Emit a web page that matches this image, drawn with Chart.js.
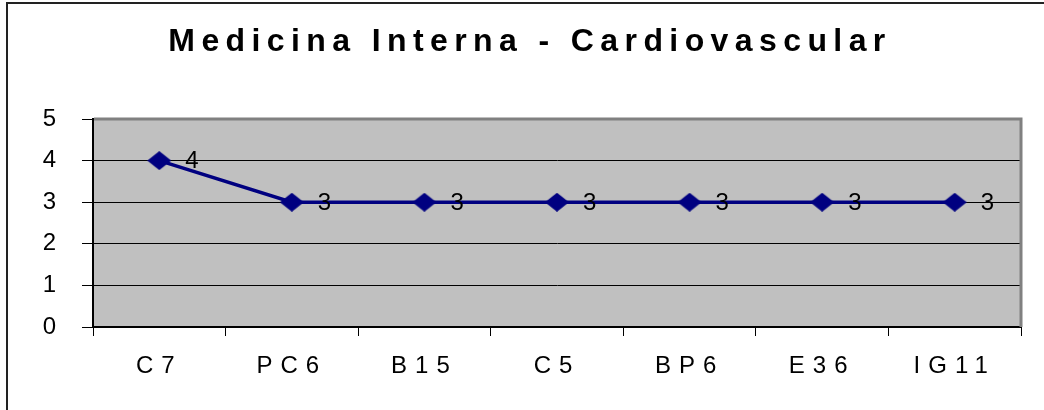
<!DOCTYPE html>
<html>
<head>
<meta charset="utf-8">
<script src="https://cdn.jsdelivr.net/npm/chart.js@4"></script>
<style>
  html, body { margin: 0; padding: 0; background: #fff; }
  #wrap { width: 1044px; height: 410px; }
</style>
</head>
<body>
<div id="wrap"><canvas id="chart" width="1044" height="410"></canvas></div>
<script>
const chartTitle = "Medicina Interna - Cardiovascular";
const categories = ["C7", "PC6", "B15", "C5", "BP6", "E36", "IG11"];
const values = [4, 3, 3, 3, 3, 3, 3];
const yTicks = [0, 1, 2, 3, 4, 5];

const FONT = "'Liberation Sans', Arial, sans-serif";
const TICK_SPACING = "8px";

// diamond marker, a little wider than tall like the original
function makeDiamond(w, h, color) {
  const c = document.createElement("canvas");
  c.width = w;
  c.height = h;
  const g = c.getContext("2d");
  g.fillStyle = color;
  g.beginPath();
  g.moveTo(w / 2, 0);
  g.lineTo(w, h / 2);
  g.lineTo(w / 2, h);
  g.lineTo(0, h / 2);
  g.closePath();
  g.fill();
  return c;
}

const spacingPlugin = {
  id: "spacing",
  beforeUpdate(chart) { chart.ctx.letterSpacing = TICK_SPACING; },
  beforeDraw(chart) {
    const ctx = chart.ctx;
    ctx.letterSpacing = TICK_SPACING;
    const a = chart.chartArea;
    ctx.save();
    ctx.fillStyle = "#c0c0c0";
    ctx.fillRect(a.left, a.top, a.right - a.left, a.bottom - a.top);
    // outer frame (only left and top visible in the original)
    ctx.strokeStyle = "#222";
    ctx.lineWidth = 2;
    ctx.beginPath();
    ctx.moveTo(7, 410);
    ctx.lineTo(7, 3);
    ctx.lineTo(1044, 3);
    ctx.stroke();
    ctx.restore();
  },
  beforeDatasetsDraw(chart) {
    const ctx = chart.ctx;
    const a = chart.chartArea;
    ctx.save();
    ctx.strokeStyle = "#808080";
    ctx.lineWidth = 3;
    ctx.beginPath();
    ctx.moveTo(a.left + 1, a.top);
    ctx.lineTo(a.right, a.top);
    ctx.lineTo(a.right, a.bottom);
    ctx.stroke();
    ctx.restore();
  },
  afterDatasetsDraw(chart) {
    const ctx = chart.ctx;
    const meta = chart.getDatasetMeta(0);
    ctx.save();
    ctx.letterSpacing = "0px";
    ctx.fillStyle = "#000";
    ctx.font = "24px " + FONT;
    ctx.textAlign = "left";
    ctx.textBaseline = "middle";
    meta.data.forEach((pt, i) => {
      ctx.fillText(String(values[i]), pt.x + 26, pt.y + 1);
    });
    ctx.restore();
  },
  afterDraw(chart) {
    const ctx = chart.ctx;
    ctx.save();
    ctx.letterSpacing = "6.4px";
    ctx.fillStyle = "#000";
    ctx.font = "bold 32px " + FONT;
    ctx.textAlign = "center";
    ctx.textBaseline = "alphabetic";
    ctx.fillText(chartTitle, 530, 51);
    ctx.restore();
  }
};

new Chart(document.getElementById("chart"), {
  type: "line",
  data: {
    labels: categories,
    datasets: [
      {
        data: values,
        borderColor: "#000080",
        backgroundColor: "#000080",
        borderWidth: 3.5,
        tension: 0,
        pointStyle: makeDiamond(24, 19, "#000080"),
        pointRadius: 10,
        pointHoverRadius: 10,
      },
    ],
  },
  options: {
    responsive: false,
    animation: false,
    events: [],
    layout: { padding: { top: 119, right: 23, left: 0, bottom: 0 } },
    plugins: {
      legend: { display: false },
      title: { display: false },
      tooltip: { enabled: false },
    },
    scales: {
      x: {
        offset: true,
        grid: {
          offset: true,
          drawOnChartArea: false,
          drawTicks: true,
          tickLength: 9,
          color: "#000",
        },
        border: { color: "#000", width: 2 },
        ticks: {
          color: "#000",
          padding: 16,
          font: { family: FONT, size: 24 },
          maxRotation: 0,
          autoSkip: false,
        },
        afterFit(scale) { scale.height = 83; },
      },
      y: {
        min: 0,
        max: 5,
        afterBuildTicks(scale) { scale.ticks = yTicks.map((v) => ({ value: v })); },
        grid: { color: "#000", tickLength: 11, lineWidth: 1 },
        border: { color: "#000", width: 2 },
        ticks: {
          color: "#000",
          padding: 18,
          font: { family: FONT, size: 24 },
        },
        afterFit(scale) { scale.width = 93; },
      },
    },
  },
  plugins: [spacingPlugin],
});
</script>
</body>
</html>
